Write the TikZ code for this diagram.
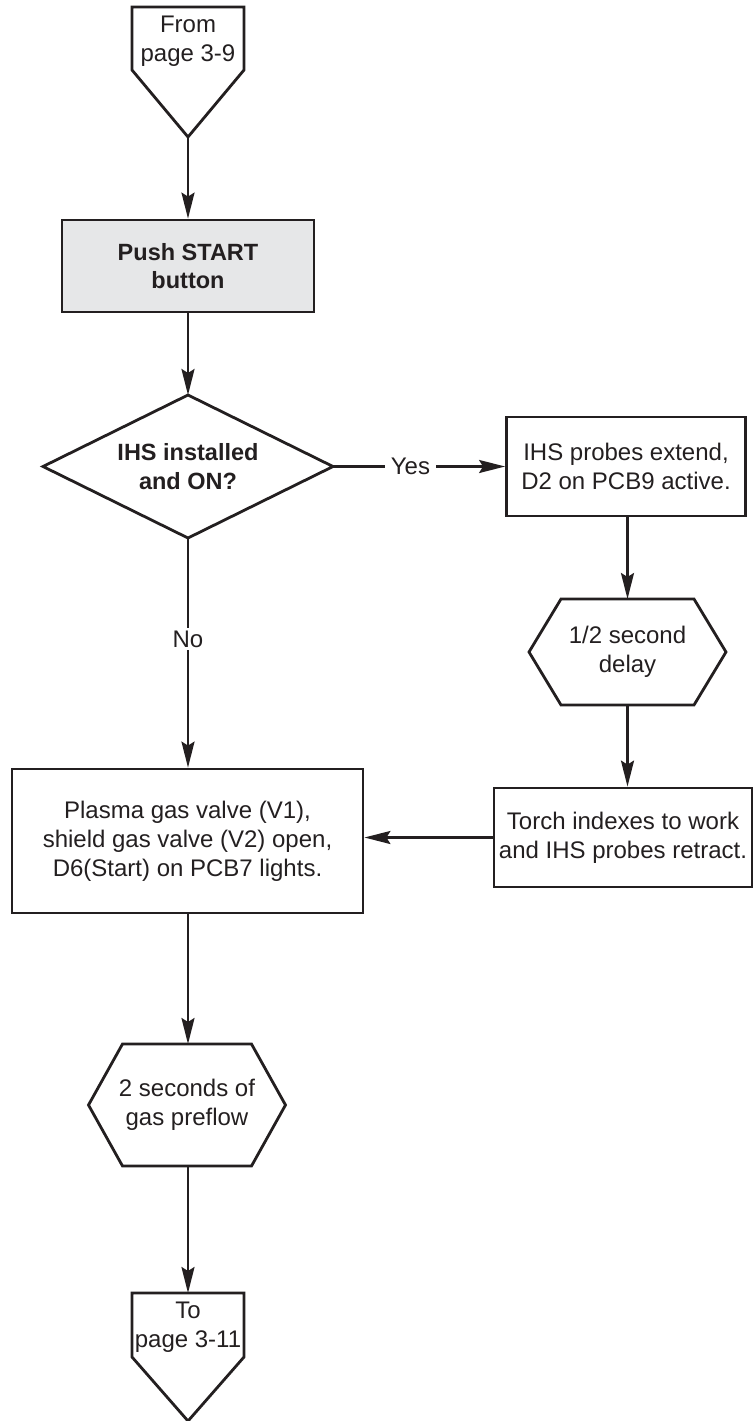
\documentclass[tikz,border=0pt]{standalone}
\usepackage{fontspec}
\setmainfont{Liberation Sans}
\usetikzlibrary{arrows.meta,calc}
\definecolor{ink}{HTML}{231F20}
\definecolor{boxgray}{HTML}{E6E7E8}
\begin{document}
\begin{tikzpicture}[x=1pt,y=-1pt,
  every node/.style={text=ink, font=\fontsize{24}{29}\selectfont, align=center},
  box/.style={draw=ink, line width=2.8pt, rectangle, inner sep=0pt},
  shapeline/.style={draw=ink, line width=2.8pt, line join=miter},
  helper/.style={rectangle, inner sep=0pt, outer sep=0pt},
  conn/.style={draw=ink, line width=2.5pt, -{Stealth[length=26pt,width=13pt,inset=4pt]}},
  lbl/.style={fill=white, inner xsep=6pt, inner ysep=3pt},
  bold/.style={font=\fontsize{23.5}{28.5}\selectfont\bfseries}
]
\useasboundingbox (0,0) rectangle (755,1421);

% From connector
\node[helper, minimum width=112pt, minimum height=130pt] (from) at (188,72) {};
\draw[shapeline] (from.north west) -- (from.north east) -- ($(from.north east)+(0,63)$) -- (from.south) -- ($(from.north west)+(0,63)$) -- cycle;
\node (fromtxt) at (188,41) {From\\page 3-9};

% Push START
\node[box, fill=boxgray, minimum width=252pt, minimum height=92pt, bold] (push) at (188,266) {Push START\\button};

% Decision
\node[helper, minimum width=290pt, minimum height=143pt, bold] (ihs) at (188,466.5) {IHS installed\\and ON?};
\draw[shapeline] (ihs.north) -- (ihs.east) -- (ihs.south) -- (ihs.west) -- cycle;

% IHS probes
\node[box, minimum width=239pt, minimum height=99pt] (probe) at (626,466.5) {IHS probes extend,\\D2 on PCB9 active.};

% delay hexagon
\node[helper, minimum width=197pt, minimum height=106pt] (delay) at (627.5,652) {1/2 second\\delay};
\draw[shapeline] ($(delay.north west)+(32,0)$) -- ($(delay.north east)+(-32,0)$) -- (delay.east) -- ($(delay.south east)+(-32,0)$) -- ($(delay.south west)+(32,0)$) -- (delay.west) -- cycle;

% Torch
\node[box, minimum width=258pt, minimum height=99pt] (torch) at (623,837.5) {Torch indexes to work\\and IHS probes retract.};

% Plasma
\node[box, minimum width=351pt, minimum height=144pt] (plasma) at (187.5,841) {Plasma gas valve (V1),\\shield gas valve (V2) open,\\D6(Start) on PCB7 lights.};

% preflow hexagon
\node[helper, minimum width=197pt, minimum height=122pt] (gas) at (187,1105) {2 seconds of\\gas preflow};
\draw[shapeline] ($(gas.north west)+(34,0)$) -- ($(gas.north east)+(-34,0)$) -- (gas.east) -- ($(gas.south east)+(-34,0)$) -- ($(gas.south west)+(34,0)$) -- (gas.west) -- cycle;

% To connector
\node[helper, minimum width=112pt, minimum height=128pt] (to) at (188,1357) {};
\draw[shapeline] (to.north west) -- (to.north east) -- ($(to.north east)+(0,64)$) -- (to.south) -- ($(to.north west)+(0,64)$) -- cycle;
\node (totxt) at (188,1327) {To\\page 3-11};

% connectors
\draw[conn] (from.south) -- (from.south |- push.north);
\draw[conn] (push.south) -- (ihs.north);
\draw[conn] (ihs.east) -- node[lbl, pos=0.45] {Yes} (ihs.east -| probe.west);
\draw[conn] (ihs.south) -- node[lbl, pos=0.44] {No} (ihs.south |- plasma.north);
\draw[conn] (delay.north |- probe.south) -- (delay.north);
\draw[conn] (delay.south) -- (delay.south |- torch.north);
\draw[conn] (torch.west) -- (torch.west -| plasma.east);
\draw[conn] (ihs.south |- plasma.south) -- (ihs.south |- gas.north);
\draw[conn] (ihs.south |- gas.south) -- (to.north);
\end{tikzpicture}
\end{document}
